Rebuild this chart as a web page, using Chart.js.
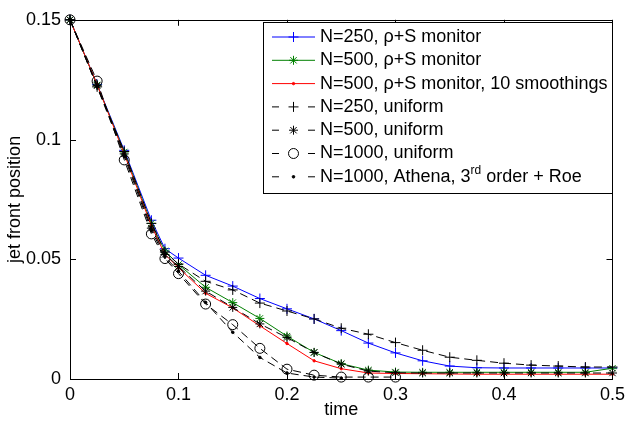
<!DOCTYPE html>
<html>
<head>
<meta charset="utf-8">
<script src="https://cdn.jsdelivr.net/npm/chart.js@4.4.1/dist/chart.umd.min.js"></script>
<style>
  html, body { margin: 0; padding: 0; background: #fff; }
  #wrap { width: 630px; height: 421px; }
</style>
</head>
<body>
<div id="wrap"><canvas id="c" width="630" height="421"></canvas></div>
<script>
// sample times (shared by all runs)
const times = [0, 0.025, 0.05, 0.075, 0.0875, 0.1, 0.125, 0.15, 0.175, 0.2, 0.225,
  0.25, 0.275, 0.3, 0.325, 0.35, 0.375, 0.4, 0.425, 0.45, 0.475, 0.5];

const rhoS250 = [0.15, 0.123, 0.0955, 0.0663, 0.0544, 0.0505, 0.0433, 0.0388, 0.0336, 0.0293, 0.0251,
  0.0202, 0.015, 0.0109, 0.0076, 0.0054, 0.0047, 0.0046, 0.0046, 0.0046, 0.0046, 0.0046];
const rhoS500 = [0.15, 0.1228, 0.0948, 0.065, 0.0535, 0.0478, 0.0383, 0.0319, 0.0253, 0.0179, 0.0111,
  0.0064, 0.0037, 0.0029, 0.0028, 0.0028, 0.0028, 0.0028, 0.0028, 0.0028, 0.0028, 0.0045];
const rhoS500smooth = [0.15, 0.123, 0.094, 0.064, 0.052, 0.0465, 0.0358, 0.0297, 0.0222, 0.0148, 0.0076,
  0.0043, 0.0025, 0.0023, 0.0022, 0.0021, 0.002, 0.002, 0.002, 0.002, 0.002, 0.002];
const uniform250 = [0.15, 0.122, 0.095, 0.065, 0.053, 0.048, 0.0408, 0.0372, 0.0317, 0.0284, 0.0251,
  0.0212, 0.0187, 0.0152, 0.012, 0.0091, 0.0078, 0.0066, 0.0058, 0.0054, 0.005, 0.005];
const uniform500 = [0.15, 0.1225, 0.094, 0.063, 0.052, 0.047, 0.0367, 0.0299, 0.023, 0.0173, 0.0111,
  0.0062, 0.0033, 0.0026, 0.0025, 0.0025, 0.0025, 0.0025, 0.0025, 0.0025, 0.0025, 0.0025];
const uniform1000 = [0.15, 0.1244, 0.0915, 0.0606, 0.0503, 0.044, 0.0313, 0.0227, 0.0128, 0.0041, 0.0016,
  0.0008, 0.0008, 0.0008];
const athena1000 = [0.15, 0.122, 0.093, 0.062, 0.051, 0.045, 0.032, 0.0195, 0.009, 0.0025, 0.0008, 0.0004];

const labels = [
  'N=250, \u03c1+S monitor',
  'N=500, \u03c1+S monitor',
  'N=500, \u03c1+S monitor, 10 smoothings',
  'N=250, uniform',
  'N=500, uniform',
  'N=1000, uniform',
  'N=1000, Athena, 3|rd| order + Roe'
];

const xTicks = [0, 0.1, 0.2, 0.3, 0.4, 0.5];
const yTicks = [0, 0.05, 0.1, 0.15];

const FONT = '"Liberation Sans", Arial, Helvetica, sans-serif';

const styles = [
  { color: '#0000ff', dash: [], point: 'cross', r: 5, fill: 'rgba(0,0,0,0)' },
  { color: '#008000', dash: [], point: 'star', r: 4.5, fill: 'rgba(0,0,0,0)' },
  { color: '#ff0000', dash: [], point: 'circle', r: 1.2, fill: '#ff0000' },
  { color: '#000000', dash: [8, 5], point: 'cross', r: 5, fill: 'rgba(0,0,0,0)' },
  { color: '#000000', dash: [8, 5], point: 'star', r: 4.5, fill: 'rgba(0,0,0,0)' },
  { color: '#000000', dash: [8, 5], point: 'circle', r: 5, fill: 'rgba(0,0,0,0)' },
  { color: '#000000', dash: [8, 5], point: 'circle', r: 1.3, fill: '#000000' }
];

const series = [rhoS250, rhoS500, rhoS500smooth, uniform250, uniform500, uniform1000, athena1000];

const datasets = series.map((vals, i) => ({
  label: labels[i],
  data: vals.map((v, k) => ({ x: times[k], y: v })),
  borderColor: styles[i].color,
  borderWidth: 1,
  borderDash: styles[i].dash,
  pointStyle: styles[i].point,
  pointRadius: styles[i].r,
  pointBorderColor: styles[i].color,
  pointBackgroundColor: styles[i].fill,
  pointBorderWidth: 1,
  tension: 0,
  clip: false,
  order: -i
}));

// box, inward ticks, axis titles and a MATLAB-like legend
const matlabFrame = {
  id: 'matlabFrame',
  afterDraw(chart) {
    const ctx = chart.ctx;
    const a = chart.chartArea;
    const xs = chart.scales.x, ys = chart.scales.y;
    ctx.save();
    ctx.strokeStyle = '#000';
    ctx.lineWidth = 1;
    ctx.setLineDash([]);
    ctx.strokeRect(Math.round(a.left) + 0.5, Math.round(a.top) + 0.5,
      Math.round(a.right - a.left), Math.round(a.bottom - a.top));
    const tl = 6;
    ctx.beginPath();
    xTicks.forEach(t => {
      const px = Math.round(xs.getPixelForValue(t)) + 0.5;
      ctx.moveTo(px, a.bottom); ctx.lineTo(px, a.bottom - tl);
      ctx.moveTo(px, a.top); ctx.lineTo(px, a.top + tl);
    });
    yTicks.forEach(t => {
      const py = Math.round(ys.getPixelForValue(t)) + 0.5;
      ctx.moveTo(a.left, py); ctx.lineTo(a.left + tl, py);
      ctx.moveTo(a.right, py); ctx.lineTo(a.right - tl, py);
    });
    ctx.stroke();

    // axis titles
    ctx.fillStyle = '#000';
    ctx.font = '18px ' + FONT;
    ctx.textAlign = 'center';
    ctx.textBaseline = 'middle';
    ctx.fillText('time', (a.left + a.right) / 2, 410);
    ctx.save();
    ctx.translate(15, (a.top + a.bottom) / 2);
    ctx.rotate(-Math.PI / 2);
    ctx.fillText('jet front position', 0, 0);
    ctx.restore();

    // legend
    const lx = 263.5, ly = 22.5, lw = 349, lh = 171;
    ctx.fillStyle = '#fff';
    ctx.fillRect(lx, ly, lw, lh);
    ctx.strokeRect(lx, ly, lw, lh);
    const rowH = 23.3;
    labels.forEach((lab, i) => {
      const y = 37 + i * rowH;
      const s = styles[i];
      ctx.strokeStyle = s.color;
      ctx.lineWidth = 1;
      ctx.beginPath();
      if (s.dash.length) {
        ctx.moveTo(272, y); ctx.lineTo(279, y);
        ctx.moveTo(308, y); ctx.lineTo(315, y);
      } else {
        ctx.moveTo(272, y); ctx.lineTo(315, y);
      }
      ctx.stroke();
      ctx.fillStyle = s.fill;
      Chart.helpers.drawPoint(ctx, {
        pointStyle: s.point, radius: s.r, rotation: 0, borderWidth: 1
      }, 293.5, y);
      ctx.fillStyle = '#000';
      ctx.textAlign = 'left';
      ctx.textBaseline = 'middle';
      const parts = lab.split('|');
      let x = 320;
      parts.forEach((p, k) => {
        ctx.font = (k === 1 ? '12px ' : '18px ') + FONT;
        ctx.fillText(p, x, k === 1 ? y - 6 : y);
        x += ctx.measureText(p).width;
      });
    });
    ctx.restore();
  }
};

new Chart(document.getElementById('c'), {
  type: 'line',
  data: { datasets },
  options: {
    responsive: false,
    animation: false,
    events: [],
    layout: { padding: { left: 0, right: 17, top: 15, bottom: 0 } },
    plugins: { legend: { display: false }, tooltip: { enabled: false } },
    scales: {
      x: {
        type: 'linear',
        min: 0, max: 0.5,
        afterBuildTicks: s => { s.ticks = xTicks.map(v => ({ value: v })); },
        afterFit: s => { s.height = 42; },
        grid: { display: false, drawTicks: false },
        border: { display: false },
        ticks: {
          color: '#000', padding: 5,
          font: { size: 18, family: FONT },
          callback: v => String(+v.toFixed(2))
        }
      },
      y: {
        type: 'linear',
        min: 0, max: 0.15,
        afterBuildTicks: s => { s.ticks = yTicks.map(v => ({ value: v })); },
        afterFit: s => { s.width = 70; },
        grid: { display: false, drawTicks: false },
        border: { display: false },
        ticks: {
          color: '#000', padding: 9,
          font: { size: 18, family: FONT },
          callback: v => String(+v.toFixed(2))
        }
      }
    }
  },
  plugins: [matlabFrame]
});
</script>
</body>
</html>
